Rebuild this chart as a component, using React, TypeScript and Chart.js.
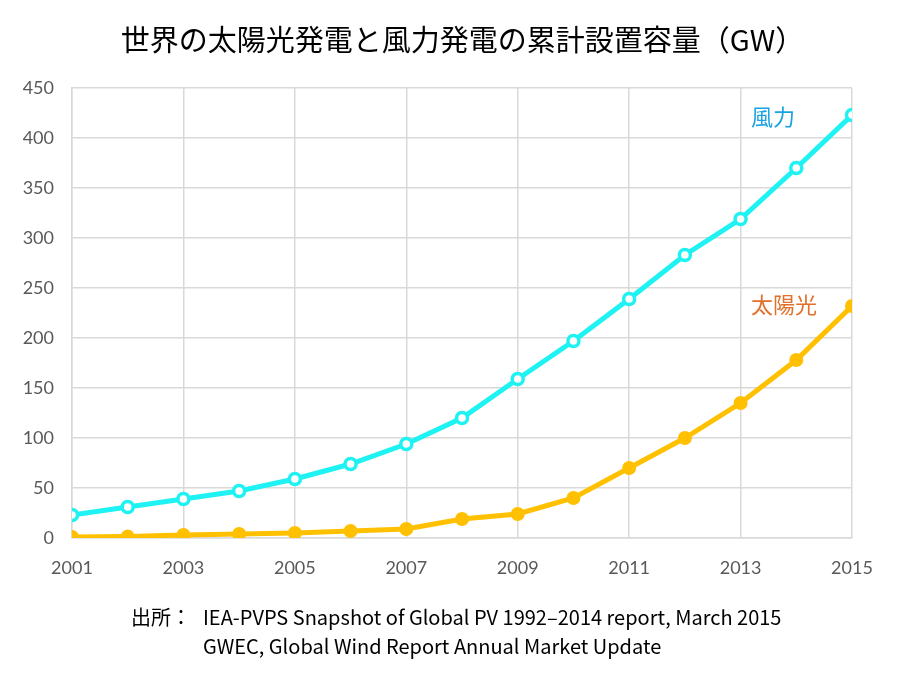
import React, { useEffect, useRef } from "react";
import { Chart, registerables } from "chart.js";

Chart.register(...registerables);

const years = [2001, 2002, 2003, 2004, 2005, 2006, 2007, 2008, 2009, 2010, 2011, 2012, 2013, 2014, 2015];
const windValues = [23, 31, 39, 47, 59, 74, 94, 120, 159, 197, 239, 283, 319, 370, 423];
const solarValues = [1, 1.4, 3, 4, 5, 7, 9, 19, 24, 40, 70, 100, 135, 178, 232];
const yTicks = [0, 50, 100, 150, 200, 250, 300, 350, 400, 450];
const xTickYears = [2001, 2003, 2005, 2007, 2009, 2011, 2013, 2015];

const titleText = "世界の太陽光発電と風力発電の累計設置容量（GW）";
const windLabel = "風力";
const solarLabel = "太陽光";
const sourceLabel = "出所：";
const sourceLines = [
  "IEA-PVPS Snapshot of Global PV 1992–2014 report, March 2015",
  "GWEC, Global Wind Report Annual Market Update",
];

const JP_FONT = '"Noto Sans CJK JP", "Noto Sans", sans-serif';

export default function App() {
  const canvasRef = useRef<HTMLCanvasElement | null>(null);

  useEffect(() => {
    if (!canvasRef.current) return;
    const chart = new Chart(canvasRef.current, {
      type: "line",
      data: {
        datasets: [
          {
            label: windLabel,
            data: years.map((x, i) => ({ x, y: windValues[i] })),
            borderColor: "#1EF2F2",
            backgroundColor: "#FFFFFF",
            borderWidth: 5,
            pointRadius: 5.5,
            pointBorderWidth: 3.5,
            pointBackgroundColor: "#FFFFFF",
            pointBorderColor: "#1EF2F2",
            tension: 0,
          },
          {
            label: solarLabel,
            data: years.map((x, i) => ({ x, y: solarValues[i] })),
            borderColor: "#FFC000",
            backgroundColor: "#FFC000",
            borderWidth: 5,
            pointRadius: 7,
            pointBorderWidth: 0,
            pointBackgroundColor: "#FFC000",
            tension: 0,
          },
        ],
      },
      options: {
        animation: false,
        responsive: false,
        maintainAspectRatio: false,
        layout: { padding: { top: 88, right: 48, left: 0, bottom: 0 } },
        plugins: {
          legend: { display: false },
          tooltip: { enabled: false },
          title: { display: false },
        },
        scales: {
          x: {
            type: "linear",
            min: years[0],
            max: years[years.length - 1],
            afterBuildTicks: (scale: any) => {
              scale.ticks = xTickYears.map((v) => ({ value: v }));
            },
            afterFit: (scale: any) => {
              scale.height = 137;
            },
            ticks: {
              padding: 19,
              color: "#595959",
              font: { family: "Lato, sans-serif", size: 18 },
              callback: (v: any) => String(v),
              maxRotation: 0,
              autoSkip: false,
            },
            grid: { color: "#D9D9D9", lineWidth: 1.5, drawTicks: false },
            border: { color: "#D9D9D9", width: 1.5 },
          },
          y: {
            min: 0,
            max: 450,
            afterBuildTicks: (scale: any) => {
              scale.ticks = yTicks.map((v) => ({ value: v }));
            },
            afterFit: (scale: any) => {
              scale.width = 72;
            },
            ticks: {
              padding: 18,
              color: "#595959",
              font: { family: "Lato, sans-serif", size: 18 },
            },
            grid: { color: "#D9D9D9", lineWidth: 1.5, drawTicks: false },
            border: { color: "#D9D9D9", width: 1.5 },
          },
        },
      },
    });
    return () => chart.destroy();
  }, []);

  return (
    <div style={{ position: "absolute", left: 0, top: 0, width: 900, height: 675, background: "#fff", overflow: "hidden" }}>
      <canvas ref={canvasRef} width={900} height={675} style={{ position: "absolute", left: 0, top: 0 }} />
      <div
        style={{
          position: "absolute",
          left: 0,
          width: 925,
          top: 18,
          textAlign: "center",
          fontFamily: JP_FONT,
          fontSize: 29,
          fontWeight: 400,
          lineHeight: "40px",
          color: "#000",
          whiteSpace: "nowrap",
        }}
      >
        {titleText}
      </div>
      <div style={{ position: "absolute", left: 751, top: 100, fontFamily: JP_FONT, fontSize: 22, lineHeight: "30px", color: "#1AA3E0" }}>
        {windLabel}
      </div>
      <div style={{ position: "absolute", left: 751, top: 288, fontFamily: JP_FONT, fontSize: 22, lineHeight: "30px", color: "#E0702A" }}>
        {solarLabel}
      </div>
      <div style={{ position: "absolute", left: 131, top: 602, fontFamily: JP_FONT, fontSize: 20, lineHeight: "29px", color: "#000" }}>
        {sourceLabel}
      </div>
      <div style={{ position: "absolute", left: 203, top: 602, fontFamily: JP_FONT, fontSize: 20, lineHeight: "29px", color: "#000", whiteSpace: "nowrap" }}>
        {sourceLines.map((l, i) => (
          <div key={i}>{l}</div>
        ))}
      </div>
    </div>
  );
}
